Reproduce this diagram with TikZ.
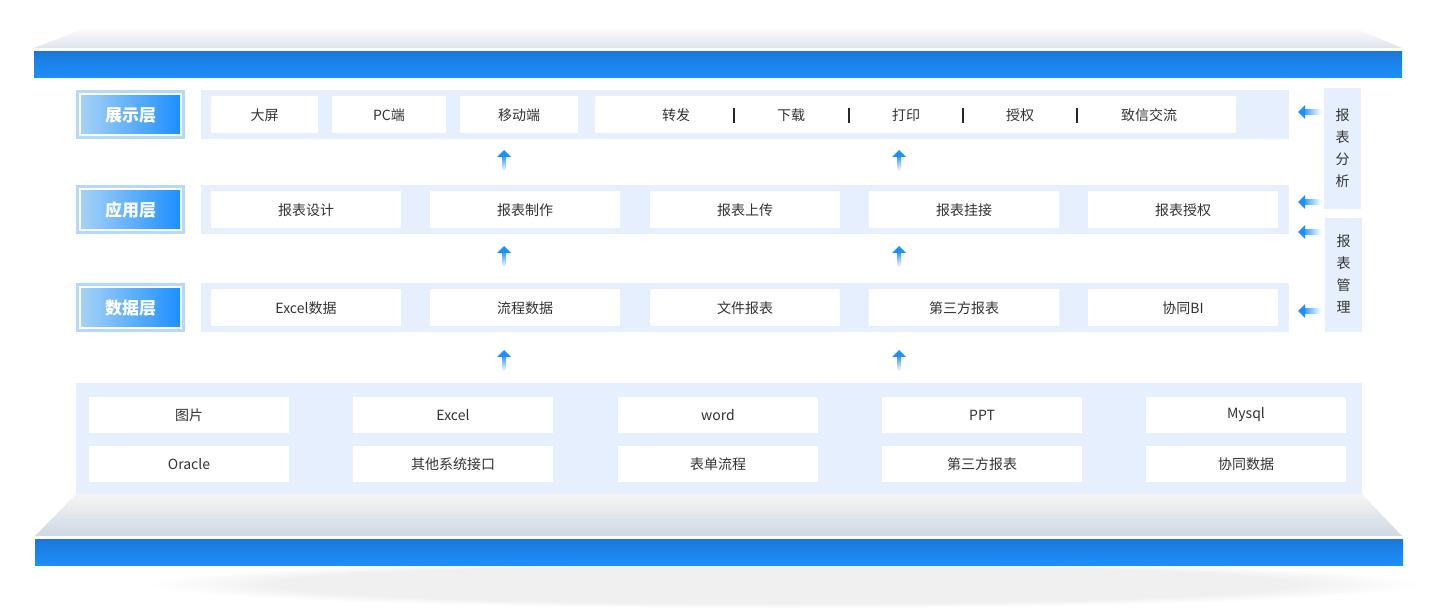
\documentclass[tikz,border=0pt]{standalone}
\usepackage{fontspec}
\setmainfont{Noto Sans CJK SC}
\usetikzlibrary{fadings}
\begin{document}
\begin{tikzpicture}[x=0.5pt,y=-0.5pt,
  txt/.style={font=\fontsize{7}{8}\selectfont,text=black!80}]
\definecolor{bar}{HTML}{1E8FFF}
\definecolor{pan}{HTML}{E5EFFD}
\definecolor{lbord}{HTML}{B8D8FA}
\definecolor{lsky}{HTML}{A4D2F5}
\definecolor{slab}{HTML}{D0D8E4}
\useasboundingbox (0,0) rectangle (1440,608);
% shadow
\fill[black!6,path fading=circle with fuzzy edge 20 percent] (150,560) rectangle (1420,608);
% top slab
\shade[top color=white,bottom color=slab!70] (90,26) -- (1350,26) -- (1402,48) -- (34,48) -- cycle;
\fill[top color=bar!85!black,bottom color=bar] (34,52) rectangle (1402,78);
% bottom slab
\shade[top color=black!4,bottom color=slab] (76,494) -- (1362,494) -- (1402,536) -- (35,536) -- cycle;
\fill[top color=bar!85!black,bottom color=bar] (35,540) rectangle (1403,566);
% layer labels
\foreach \y/\t/\n in {90/展示层/la,185/应用层/lb,283/数据层/lc}{
  \fill[lbord] (76,\y) rectangle (185,\y+49);
  \fill[white] (79,\y+3) rectangle (182,\y+46);
  \shade[shading=axis,shading angle=60,left color=lsky,right color=bar] (81,\y+6) rectangle (180,\y+44);
  \node[font=\bfseries\fontsize{8.5}{10}\selectfont,text=white] (\n) at (130.5,\y+25) {\t};
  \fill[pan] (201,\y) rectangle (1289,\y+49);
}
% top row
\foreach \a/\b/\t/\n in {211/318/大屏/t1,332/446/PC端/t2,460/578/移动端/t3}{
  \fill[white] (\a,96) rectangle (\b,133);
  \node[txt] (\n) at ({(\a+\b)/2},115) {\t};}
\fill[white] (595,96) rectangle (1236,133);
\foreach \x/\t/\n in {676/转发/t4,791/下载/t5,906/打印/t6,1020/授权/t7,1149/致信交流/t8}
  \node[txt] (\n) at (\x,115) {\t};
\foreach \x/\n in {734/s1,849/s2,963/s3,1077/s4}
  \draw[black!85,line width=1pt] (\x,108) -- (\x,123);
% rows 2,3
\foreach \i/\a/\t/\u in {1/211/报表设计/Excel数据,2/430/报表制作/流程数据,3/650/报表上传/文件报表,4/869/报表挂接/第三方报表,5/1088/报表授权/协同BI}{
  \fill[white] (\a,191) rectangle (\a+190,228);
  \node[txt] (b\i) at (\a+95,210) {\t};
  \fill[white] (\a,289) rectangle (\a+190,326);
  \node[txt] (c\i) at (\a+95,308) {\u};}
% up arrows
\foreach \x in {504,899}{
  \foreach \y in {150,246,350}{
    \shade[top color=bar,bottom color=white] (\x-2,\y+5) rectangle (\x+2,\y+21);
    \fill[bar] (\x-7,\y+7) -- (\x,\y) -- (\x+7,\y+7) -- cycle;}}
% right side
\fill[pan] (1324,88) rectangle (1361,209);
\node[txt,align=center,font=\fontsize{7}{11}\selectfont] (ra) at (1342.5,148) {报\\表\\分\\析};
\fill[pan] (1325,218) rectangle (1362,332);
\node[txt,align=center,font=\fontsize{7}{11}\selectfont] (rb) at (1343.5,274) {报\\表\\管\\理};
\foreach \y in {112,202,232,311}{
  \shade[left color=bar,right color=white] (1302,\y-2) rectangle (1321,\y+3);
  \fill[bar] (1305,\y-7) -- (1298,\y) -- (1305,\y+7) -- cycle;}
% bottom panel
\fill[pan] (76,383) rectangle (1362,494);
\foreach \i/\a/\t/\u in {1/89/图片/Oracle,2/353/Excel/其他系统接口,3/618/word/表单流程,4/882/PPT/第三方报表,5/1146/Mysql/协同数据}{
  \fill[white] (\a,397) rectangle (\a+200,433);
  \node[txt] (d\i) at (\a+100,415) {\t};
  \fill[white] (\a,446) rectangle (\a+200,482);
  \node[txt] (e\i) at (\a+100,464) {\u};}
\end{tikzpicture}
\end{document}
